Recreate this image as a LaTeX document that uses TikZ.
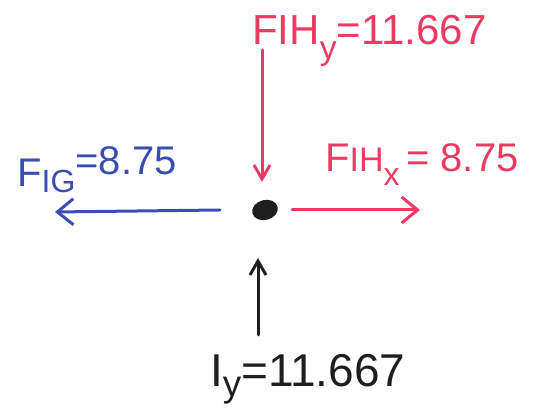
\documentclass[tikz,border=0pt]{standalone}
\usepackage{fontspec}
\usepackage{graphicx}
\setmainfont{Liberation Sans}
\usetikzlibrary{arrows.meta,shapes.geometric}
\definecolor{penred}{HTML}{EE3A62}
\definecolor{penblue}{HTML}{3B4DB5}
\definecolor{penblack}{HTML}{1E1E1E}
\newcommand{\lowsub}[2][0.35em]{\raisebox{-#1}{\scalebox{0.8}{#2}}}
\tikzset{
  pen/.style={line width=3pt, line cap=round, line join=round},
  chev/.style={-{Straight Barb[length=16pt,width=26pt,line width=3pt]}},
  chevs/.style={-{Straight Barb[length=14pt,width=16pt,line width=3pt]}},
  lbl/.style={inner sep=0pt, anchor=base west},
}
\begin{document}
\begin{tikzpicture}[x=1pt,y=1pt]
\useasboundingbox (0,0) rectangle (543,411);
% body
\node[ellipse, fill=penblack, minimum width=26pt, minimum height=20pt, inner sep=0pt, rotate=15] (p) at (265,201) {};
% connectors
\coordinate (topstart) at (262,361);
\coordinate (topend) at (262,229);
\coordinate (rstart) at (292,201);
\coordinate (rend) at (420,201);
\coordinate (lstart) at (220,201);
\coordinate (lend) at (55,199);
\coordinate (bstart) at (258,76);
\coordinate (bend) at (258,153);
\draw[pen, penred, chevs] (topstart) -- (topend);
\draw[pen, penred, chev] (rstart) -- (rend);
\draw[pen, penblue, chev] (lstart) -- (lend);
\draw[pen, penblack, chevs] (bstart) -- (bend);
% labels
\node[lbl, font=\fontsize{42}{48}\selectfont, text=penred] (ltop) at (252,366) {FIH\lowsub{y}=11.667};
\node[lbl, font=\fontsize{40}{46}\selectfont, text=penblue] (lblue) at (17,224) {F\lowsub[0.15em]{IG}\raisebox{0.3em}{=8.75}};
\node[lbl, font=\fontsize{40}{46}\selectfont, text=penred] (lred) at (325,239) {F\scalebox{0.85}{IH}\lowsub{x}\,= 8.75};
\node[lbl, font=\fontsize{46}{52}\selectfont, text=penblack] (lbot) at (210,24) {I\lowsub[0.2em]{y}=11.667};
\end{tikzpicture}
\end{document}
